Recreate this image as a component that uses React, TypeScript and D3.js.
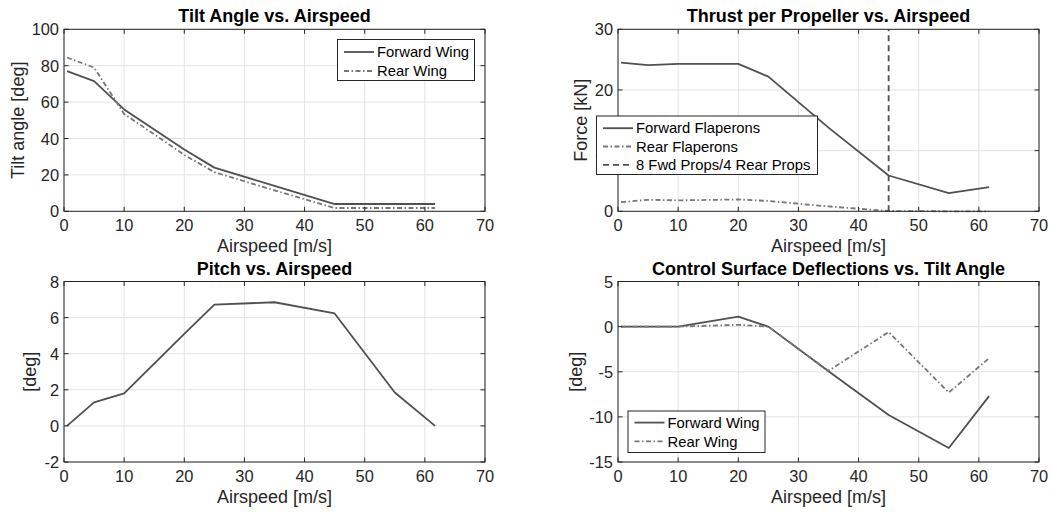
import React from "react";
import * as d3 from "d3";

// ---------- data ----------
const airspeed = [0.5, 5, 10, 20, 25, 35, 45, 55, 61.7];
const xTicks = [0, 10, 20, 30, 40, 50, 60, 70];

const tiltForward = [77, 71.5, 56, 34, 24, 14, 4, 4, 4];
const tiltRear = [84.5, 79, 53.5, 31, 21.5, 11.5, 1.8, 1.8, 1.8];
const tiltTicks = [0, 20, 40, 60, 80, 100];

const thrustForward = [24.5, 24.1, 24.3, 24.3, 22.2, 13.8, 5.9, 3.0, 4.0];
const thrustRear = [1.5, 1.9, 1.8, 1.95, 1.7, 0.8, 0.05, 0, 0];
const propSwitchSpeed = [45, 45];
const propSwitchForce = [0, 30];
const thrustTicks = [0, 10, 20, 30];

const pitch = [0, 1.3, 1.8, 5.1, 6.72, 6.85, 6.23, 1.85, 0];
const pitchTicks = [-2, 0, 2, 4, 6, 8];

const deflForward = [0, 0, 0, 1.1, 0, -4.95, -9.8, -13.45, -7.7];
const deflRear = [0, 0, 0, 0.2, 0, -4.9, -0.6, -7.3, -3.5];
const deflTicks = [-15, -10, -5, 0, 5];

// ---------- styles ----------
const FONT = "'Liberation Sans', Arial, Helvetica, sans-serif";
const AX = "#262626";
const GRID = "#e3e3e3";
const C_FWD = "#505050";
const C_REAR = "#777777";
const DASHDOT = "5,2.5,1.5,2.5";
const DASH = "6,4";

type Series = { x: number[]; y: number[]; color: string; dash?: string; label: string };
type PanelProps = {
  left: number; top: number; width: number; height: number;
  yDomain: [number, number]; yTicks: number[];
  title: string; ylabel: string; ylabelX: number;
  series: Series[];
  legend: { x: number; y: number; w: number; h: number; row0: number; rowStep: number };
};

function Panel(p: PanelProps) {
  const x = d3.scaleLinear().domain([0, 70]).range([p.left, p.left + p.width]);
  const y = d3.scaleLinear().domain(p.yDomain).range([p.top + p.height, p.top]);
  const bottom = p.top + p.height;
  const right = p.left + p.width;
  const line = d3.line<[number, number]>().x(d => x(d[0])).y(d => y(d[1]));
  const tl = 4.5;
  return (
    <g>
      {/* grid */}
      {xTicks.map(t => (
        <line key={"gx" + t} x1={x(t)} x2={x(t)} y1={p.top} y2={bottom} stroke={GRID} strokeWidth={1} />
      ))}
      {p.yTicks.map(t => (
        <line key={"gy" + t} x1={p.left} x2={right} y1={y(t)} y2={y(t)} stroke={GRID} strokeWidth={1} />
      ))}
      {/* series */}
      {p.series.map((s, i) => (
        <path key={"s" + i} d={line(s.x.map((v, j) => [v, s.y[j]] as [number, number])) || ""}
          fill="none" stroke={s.color} strokeWidth={1.8} strokeDasharray={s.dash} strokeLinejoin="round" />
      ))}
      {/* box */}
      <rect x={p.left} y={p.top} width={p.width} height={p.height} fill="none" stroke={AX} strokeWidth={1} />
      {/* ticks */}
      {xTicks.map(t => (
        <g key={"tx" + t}>
          <line x1={x(t)} x2={x(t)} y1={bottom} y2={bottom - tl} stroke={AX} />
          <line x1={x(t)} x2={x(t)} y1={p.top} y2={p.top + tl} stroke={AX} />
          <text x={x(t)} y={bottom + 19.5} textAnchor="middle" fontSize={16.4} fill={AX} fontFamily={FONT}>{t}</text>
        </g>
      ))}
      {p.yTicks.map(t => (
        <g key={"ty" + t}>
          <line x1={p.left} x2={p.left + tl} y1={y(t)} y2={y(t)} stroke={AX} />
          <line x1={right} x2={right - tl} y1={y(t)} y2={y(t)} stroke={AX} />
          <text x={p.left - 5} y={y(t) + 6} textAnchor="end" fontSize={16.4} fill={AX} fontFamily={FONT}>{t}</text>
        </g>
      ))}
      {/* labels */}
      <text x={(p.left + right) / 2} y={p.top - 7} textAnchor="middle" fontSize={18} fontWeight="bold" fill="#000" fontFamily={FONT}>{p.title}</text>
      <text x={(p.left + right) / 2} y={bottom + 41} textAnchor="middle" fontSize={18} fill={AX} fontFamily={FONT}>Airspeed [m/s]</text>
      <text transform={`translate(${p.ylabelX},${(p.top + bottom) / 2}) rotate(-90)`} textAnchor="middle" fontSize={18} fill={AX} fontFamily={FONT}>{p.ylabel}</text>
      {/* legend */}
      <g>
        <rect x={p.legend.x} y={p.legend.y} width={p.legend.w} height={p.legend.h} fill="#fff" stroke={AX} strokeWidth={1} />
        {p.series.map((s, i) => {
          const cy = p.legend.y + p.legend.row0 + i * p.legend.rowStep;
          return (
            <g key={"lg" + i}>
              <line x1={p.legend.x + 6.5} x2={p.legend.x + 36.5} y1={cy} y2={cy} stroke={s.color} strokeWidth={1.8} strokeDasharray={s.dash} />
              <text x={p.legend.x + 39.5} y={cy + 5.2} fontSize={14.8} fill="#000" fontFamily={FONT}>{s.label}</text>
            </g>
          );
        })}
      </g>
    </g>
  );
}

export default function App() {
  const W = 421, H = 182;
  return (
    <svg width={1052} height={512} style={{ position: "absolute", left: 0, top: 0, background: "#fff" }}>
      <rect x={0} y={0} width={1052} height={512} fill="#fff" />
      <Panel left={64} top={29.3} width={W} height={H} yDomain={[0, 100]} yTicks={tiltTicks}
        title="Tilt Angle vs. Airspeed" ylabel="Tilt angle [deg]" ylabelX={23.5}
        series={[
          { x: airspeed, y: tiltForward, color: C_FWD, label: "Forward Wing" },
          { x: airspeed, y: tiltRear, color: C_REAR, dash: DASHDOT, label: "Rear Wing" },
        ]}
        legend={{ x: 337.5, y: 39.5, w: 137, h: 41, row0: 12.5, rowStep: 19 }} />
      <Panel left={618} top={29.3} width={W} height={H} yDomain={[0, 30]} yTicks={thrustTicks}
        title="Thrust per Propeller vs. Airspeed" ylabel="Force [kN]" ylabelX={587}
        series={[
          { x: airspeed, y: thrustForward, color: C_FWD, label: "Forward Flaperons" },
          { x: airspeed, y: thrustRear, color: C_REAR, dash: DASHDOT, label: "Rear Flaperons" },
          { x: propSwitchSpeed, y: propSwitchForce, color: C_FWD, dash: DASH, label: "8 Fwd Props/4 Rear Props" },
        ]}
        legend={{ x: 596.5, y: 116, w: 221, h: 58.5, row0: 12.2, rowStep: 18.3 }} />
      <Panel left={64} top={281.5} width={W} height={180.5} yDomain={[-2, 8]} yTicks={pitchTicks}
        title="Pitch vs. Airspeed" ylabel="[deg]" ylabelX={36}
        series={[{ x: airspeed, y: pitch, color: C_FWD, label: "" }]}
        legend={{ x: -1000, y: -1000, w: 0, h: 0, row0: 0, rowStep: 0 }} />
      <Panel left={618} top={281.5} width={W} height={180.5} yDomain={[-15, 5]} yTicks={deflTicks}
        title="Control Surface Deflections vs. Tilt Angle" ylabel="[deg]" ylabelX={581.5}
        series={[
          { x: airspeed, y: deflForward, color: C_FWD, label: "Forward Wing" },
          { x: airspeed, y: deflRear, color: C_REAR, dash: DASHDOT, label: "Rear Wing" },
        ]}
        legend={{ x: 628, y: 411, w: 137, h: 41.5, row0: 11.6, rowStep: 18.8 }} />
    </svg>
  );
}
